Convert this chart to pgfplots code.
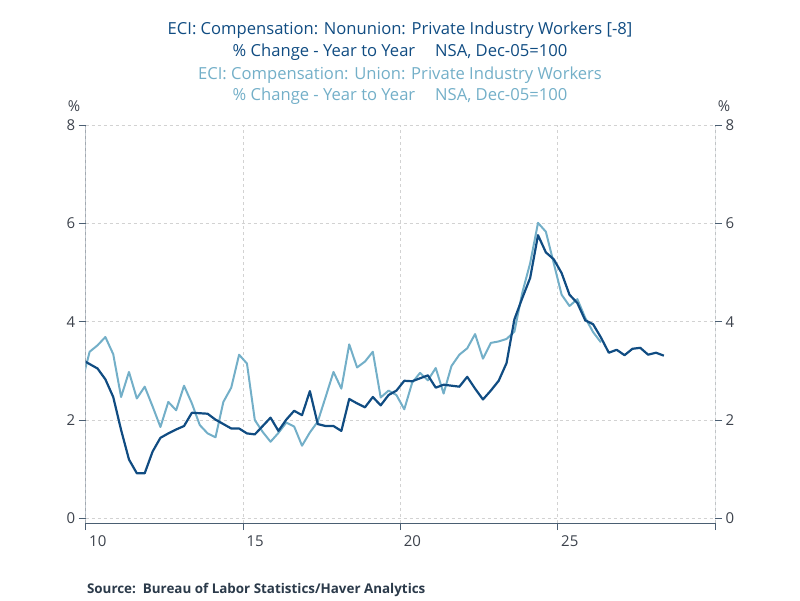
\documentclass[border=0pt]{standalone}
\usepackage{pgfplots}
\pgfplotsset{compat=1.18}
\usepackage{fontspec}
\setmainfont{Open Sans}
\definecolor{darkln}{RGB}{16,76,130}
\definecolor{lightln}{RGB}{115,175,200}
\definecolor{axcol}{RGB}{74,94,114}
\definecolor{tickcol}{RGB}{60,66,76}
\definecolor{gridcol}{RGB}{210,210,210}
\definecolor{srccol}{RGB}{43,58,74}
\begin{document}
\begin{tikzpicture}[x=1pt,y=1pt]
\path[use as bounding box] (0,0) rectangle (800,600);
\pgfplotsset{
  myaxis/.style={
    scale only axis, width=629.3pt, height=398pt,
    xmin=10, xmax=30, ymin=-0.0915, ymax=8,
    at={(85.7pt,77pt)}, anchor=south west,
    axis line style={draw=none},
    tick align=outside, major tick length=7pt,
    tick style={axcol, line width=0.9pt},
    /pgf/number format/assume math mode=true,
    ticklabel style={font=\fontsize{15}{17}\selectfont, text=tickcol},
    ytick={0,2,4,6,8},
    clip=true,
  }
}
\begin{axis}[myaxis,
  xtick={10,15,20,25}, xticklabels={10,15,20,25},
  xtick pos=bottom, ytick pos=left,
  xticklabel style={anchor=north west, yshift=-2pt},
  grid=major, major grid style={gridcol, dashed, line width=0.6pt},
  extra x ticks={30}, extra x tick labels={},
]
\draw[axcol, line width=0.9pt] (rel axis cs:0,1) -- (rel axis cs:0,0) -- (rel axis cs:1,0) -- (rel axis cs:1,1);
\addplot[lightln, line width=2pt, line join=round] coordinates {
(9.875,2.76) (10.125,3.39) (10.375,3.52) (10.625,3.69) (10.875,3.34) (11.125,2.47) (11.375,2.98) (11.625,2.44) (11.875,2.68)
(12.125,2.28) (12.375,1.86) (12.625,2.37) (12.875,2.20) (13.125,2.70) (13.375,2.34) (13.625,1.90) (13.875,1.73)
(14.125,1.65) (14.375,2.37) (14.625,2.66) (14.875,3.33) (15.125,3.15) (15.375,2.00) (15.625,1.76) (15.875,1.56)
(16.125,1.74) (16.375,1.95) (16.625,1.87) (16.875,1.48) (17.125,1.75) (17.375,1.97) (17.625,2.47) (17.875,2.98)
(18.125,2.64) (18.375,3.54) (18.625,3.07) (18.875,3.19) (19.125,3.39) (19.375,2.46) (19.625,2.60) (19.875,2.51)
(20.125,2.22) (20.375,2.76) (20.625,2.96) (20.875,2.81) (21.125,3.06) (21.375,2.54) (21.625,3.10) (21.875,3.33)
(22.125,3.46) (22.375,3.75) (22.625,3.25) (22.875,3.57) (23.125,3.60) (23.375,3.65) (23.625,3.80) (23.875,4.59)
(24.125,5.19) (24.375,6.01) (24.625,5.83) (24.875,5.19) (25.125,4.55) (25.375,4.32) (25.625,4.46) (25.875,4.08)
(26.125,3.79) (26.375,3.58)
};
\addplot[darkln, line width=2.2pt, line join=round] coordinates {
(9.875,3.23) (10.125,3.14) (10.375,3.05) (10.625,2.83) (10.875,2.47) (11.125,1.80) (11.375,1.20) (11.625,0.92) (11.875,0.92)
(12.125,1.36) (12.375,1.64) (12.625,1.73) (12.875,1.81) (13.125,1.88) (13.375,2.15) (13.625,2.14) (13.875,2.13)
(14.125,2.01) (14.375,1.92) (14.625,1.83) (14.875,1.83) (15.125,1.73) (15.375,1.71) (15.625,1.88) (15.875,2.05)
(16.125,1.78) (16.375,2.01) (16.625,2.19) (16.875,2.10) (17.125,2.59) (17.375,1.92) (17.625,1.88) (17.875,1.88)
(18.125,1.78) (18.375,2.43) (18.625,2.34) (18.875,2.26) (19.125,2.47) (19.375,2.30) (19.625,2.51) (19.875,2.60)
(20.125,2.80) (20.375,2.79) (20.625,2.85) (20.875,2.91) (21.125,2.66) (21.375,2.72) (21.625,2.70) (21.875,2.68)
(22.125,2.88) (22.375,2.64) (22.625,2.42) (22.875,2.60) (23.125,2.80) (23.375,3.16) (23.625,4.05) (23.875,4.48)
(24.125,4.89) (24.375,5.76) (24.625,5.41) (24.875,5.27) (25.125,4.99) (25.375,4.55) (25.625,4.38) (25.875,4.03)
(26.125,3.95) (26.375,3.68) (26.625,3.37) (26.875,3.43) (27.125,3.32) (27.375,3.45) (27.625,3.47) (27.875,3.33)
(28.125,3.37) (28.375,3.31)
};
\end{axis}
\begin{axis}[myaxis,
  xtick=\empty, ytick pos=right, yticklabel pos=right,
]
\end{axis}
\node[font=\fontsize{15}{17}\selectfont, text=tickcol] at (74,493.5) {\%};
\node[font=\fontsize{15}{17}\selectfont, text=tickcol] at (724,494) {\%};
\node[font=\fontsize{16.6}{19}\selectfont, text=darkln] at (400,569.5) {ECI: Compensation: Nonunion: Private Industry Workers [-8]};
\node[font=\fontsize{16.6}{19}\selectfont, text=darkln] at (400,547.8) {\% Change - Year to Year\hspace{1.2em}NSA, Dec-05=100};
\node[font=\fontsize{16.6}{19}\selectfont, text=lightln] at (400,524.5) {ECI: Compensation: Union: Private Industry Workers};
\node[font=\fontsize{16.6}{19}\selectfont, text=lightln] at (400,503.5) {\% Change - Year to Year\hspace{1.2em}NSA, Dec-05=100};
\node[font=\fontsize{13.4}{15}\selectfont\bfseries, text=srccol, anchor=west] at (83.5,10.5) {Source:\ \ Bureau of Labor Statistics/Haver Analytics};
\end{tikzpicture}
\end{document}
